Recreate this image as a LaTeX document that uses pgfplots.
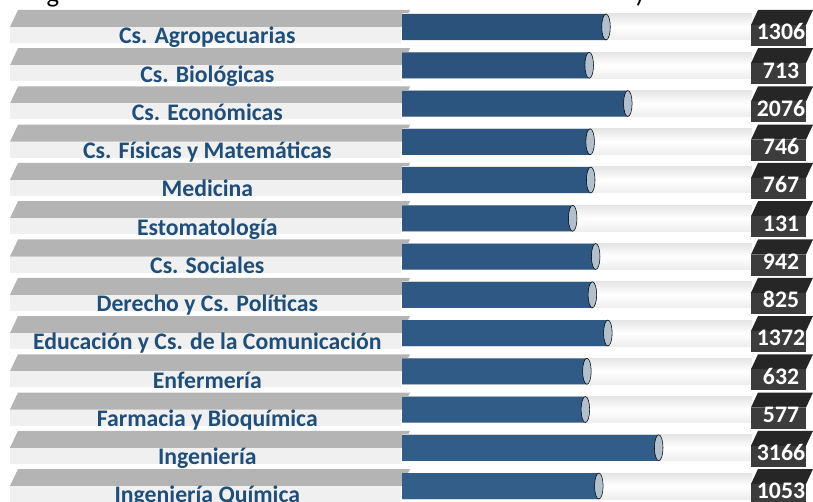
\documentclass[border=0pt]{standalone}
\usepackage{pgfplots}
\usepackage{pgfplotstable}
\pgfplotsset{compat=1.18}
\usepackage{fontspec}
\setmainfont{Carlito}

\definecolor{lblblue}{HTML}{1F4E79}
\definecolor{stripTop}{HTML}{B4B4B4}
\definecolor{stripFront}{HTML}{F0F0F0}
\definecolor{barTop}{HTML}{2A527B}
\definecolor{barMid}{HTML}{4272A2}
\definecolor{barBot}{HTML}{325E8A}
\definecolor{capCol}{HTML}{B2BFCD}
\definecolor{boxTop}{HTML}{262626}
\definecolor{boxFront}{HTML}{3C3C3C}

% row = position from the top, val = number shown
\pgfplotstableread{
row val
0 1306
1 713
2 2076
3 746
4 767
5 131
6 942
7 825
8 1372
9 632
10 577
11 3166
12 1053
}\facdata

\newcommand{\lblfont}{\fontsize{17.8}{19}\selectfont\bfseries}

\begin{document}
\begin{tikzpicture}
\useasboundingbox (0pt,0pt) rectangle (609.75pt,-376.5pt);
\clip (0pt,0pt) rectangle (609.75pt,-376.5pt);

% background strips, one per row (units: reference pixels, y down)
\begin{scope}[x=0.75pt, y=-0.75pt]
\foreach \i in {0,...,12}{
  \pgfmathsetmacro\c{27+38.25*\i}
  \fill[stripTop] (10,\c) -- (18,\c-17) -- (410,\c-17) -- (402,\c) -- cycle;
  \fill[stripFront] (10,\c) rectangle (401,\c+16);
  \shade[top color=gray!20, bottom color=gray!14, middle color=white] (402,\c-13) rectangle (752,\c+13);
  \fill[boxTop] (751,\c-2) -- (758,\c-17) -- (813,\c-17) -- (806,\c-2) -- cycle;
  \fill[boxFront] (751,\c-2) rectangle (806,\c+19);
}
\node[anchor=base, font=\fontsize{20}{24}\selectfont] at (53,3) {g};
\node[anchor=base, font=\fontsize{20}{24}\selectfont] at (640,3) {)};
\end{scope}

\begin{axis}[
    at={(301.5pt,0pt)}, anchor=north west,
    width=308.25pt, height=376.5pt, scale only axis,
    xmin=-5893, xmax=8610,
    ymin=-0.706, ymax=12.418, y dir=reverse,
    x coord trafo/.code={\pgfmathparse{#1+5893}},
    x coord inv trafo/.code={\pgfmathparse{#1-5893}},
    axis line style={draw=none},
    xtick=\empty,
    ytick={0,...,12},
    yticklabels={Cs. Agropecuarias, Cs. Biológicas, Cs. Económicas,
        Cs. Físicas y Matemáticas, Medicina, Estomatología, Cs. Sociales,
        Derecho y Cs. Políticas, Educación y Cs. de la Comunicación,
        Enfermería, Farmacia y Bioquímica, Ingeniería, Ingeniería Química},
    major tick length=0pt,
    yticklabel style={anchor=base, xshift=-146pt, yshift=-12.6pt,
        font=\lblfont, text=lblblue, inner sep=0pt},
    clip=false,
]
\addplot[xbar, bar width=19.5pt, draw=none,
    top color=barTop, middle color=barMid, bottom color=barBot]
    table[x=val, y=row] {\facdata};
\addplot[only marks, mark=*, mark size=9.75pt,
    mark options={fill=capCol, draw=none, xscale=0.33}]
    table[x=val, y=row] {\facdata};
\addplot[draw=none, mark=none, nodes near coords, point meta=explicit symbolic,
    nodes near coords style={anchor=base, yshift=-9.6pt, text=white,
        font=\lblfont, inner sep=0pt}]
    table[x expr=7481, y=row, meta=val] {\facdata};
\end{axis}
\end{tikzpicture}
\end{document}
